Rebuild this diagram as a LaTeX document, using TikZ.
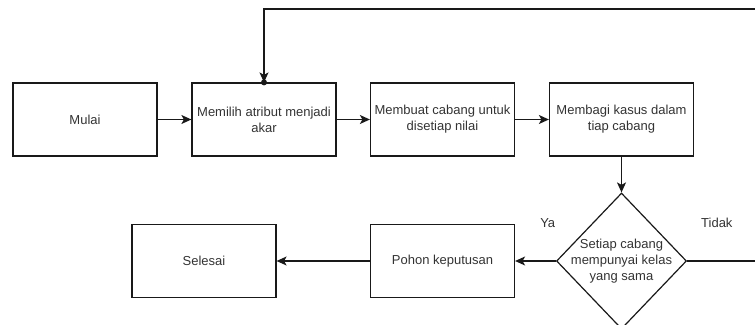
\documentclass[tikz,border=0pt]{standalone}
\usepackage{fontspec}
\setmainfont{Liberation Sans}
\usetikzlibrary{shapes.geometric,arrows.meta}

\tikzset{
  kotak/.style={draw=black!90, line width=1.2pt, minimum width=144pt, minimum height=73pt, align=center, inner sep=0pt},
  keputusan/.style={draw=black!90, diamond, line width=1.2pt, minimum width=130pt, minimum height=136pt, inner sep=0pt},
  panah/.style={draw=black!90, line width=1.2pt, -{Stealth[length=10pt,width=9pt,inset=2.5pt]}},
  teks/.style={font=\fontsize{13}{16}\selectfont, text=black!80}
}

\begin{document}
\begin{tikzpicture}[x=1pt,y=-1pt,every node/.style={teks}]
\clip (0,0) rectangle (755,324);

\node[kotak] (mulai) at (85,119.5) {Mulai};
\node[kotak] (memilih) at (264,119.5) {Memilih atribut menjadi\\akar};
\node[kotak] (membuat) at (442.5,119.5) {Membuat cabang untuk\\disetiap nilai};
\node[kotak] (membagi) at (621.5,119.5) {Membagi kasus dalam\\tiap cabang};

\node[keputusan] (cek) at (621.5,261) {};
\node[align=center] (cekteks) at (cek.center) {Setiap cabang\\mempunyai kelas\\yang sama};

\node[kotak] (pohon) at (442.5,261) {Pohon keputusan};
\node[kotak] (selesai) at (204,261) {Selesai};

\coordinate (kanan) at (780,9);

\draw[panah] (mulai) -- (memilih);
\draw[panah] (memilih) -- (membuat);
\draw[panah] (membuat) -- (membagi);
\draw[panah] (membagi) -- (cek);
\draw[panah] (cek.west) -- node[pos=0.2,above=29pt] (ya) {Ya} (pohon.east);
\draw[panah] (pohon) -- (selesai);
\draw[panah] (cek.east) -| node[pos=0.16,above=29pt] (tidak) {Tidak} (kanan) -| (memilih.north);
\fill[black!90] (memilih.north) circle (3pt);
\end{tikzpicture}
\end{document}
